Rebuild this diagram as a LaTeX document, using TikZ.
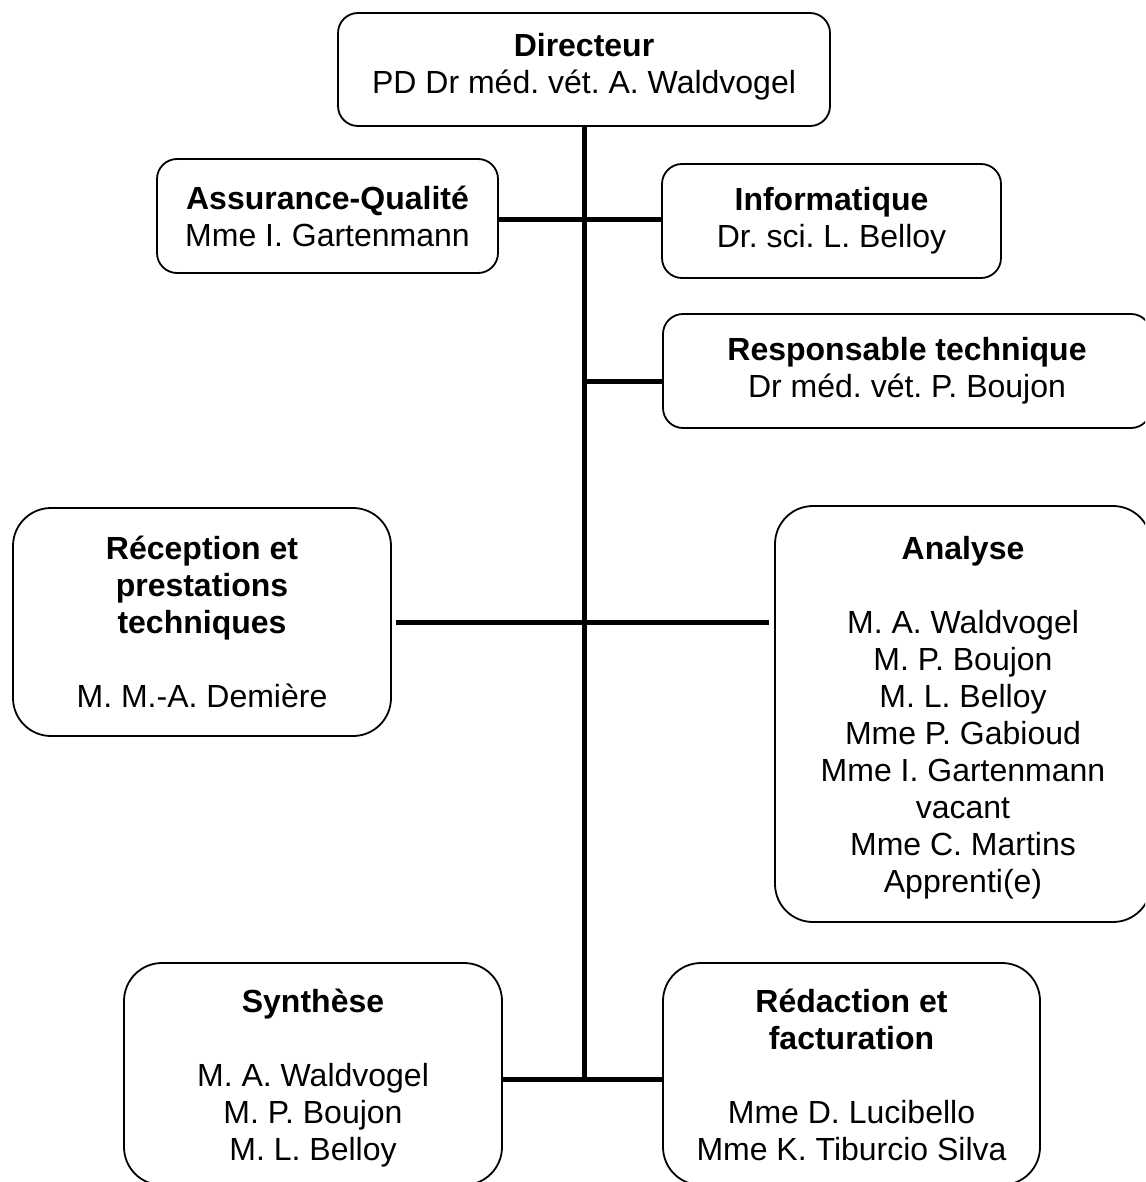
\documentclass[tikz,border=0pt]{standalone}
\usepackage{fontspec}
\setmainfont{Liberation Sans}
\frenchspacing
\begin{document}
\begin{tikzpicture}[x=1pt,y=-1pt,
  box/.style={draw=black, line width=1.8pt, rounded corners=20pt, fill=white, align=center,
    inner sep=0pt, font=\fontsize{32}{37}\selectfont},
  bigbox/.style={box, rounded corners=38pt},
  txt/.style={align=center, inner sep=0pt, font=\fontsize{32}{37}\selectfont},
  link/.style={draw=black, line width=5pt}]
\useasboundingbox (0,0) rectangle (1145,1182);
\clip (0,0) rectangle (1145,1182);
\fill[white] (0,0) rectangle (1145,1182);

% coordinates on the trunk
\coordinate (j1) at (584,220);
\coordinate (j2) at (584,381);
\coordinate (j3) at (584,622);
\coordinate (j4) at (584,1079);

\node[box, minimum width=492pt, minimum height=113pt] (dir) at (584,69.5) {};
\node[txt] (dirt) at (584,66.5)
  {\textbf{Directeur}\\PD Dr méd. vét. A. Waldvogel};

\node[box, minimum width=341pt, minimum height=114pt] (aq) at (327.5,216)
  {\textbf{Assurance-Qualité}\\Mme I. Gartenmann};
\node[box, minimum width=339pt, minimum height=114pt] (info) at (831.5,221)
  {\textbf{Informatique}\\Dr. sci. L. Belloy};

\node[box, minimum width=488pt, minimum height=114pt] (resp) at (907,371)
  {\textbf{Responsable technique}\\Dr méd. vét. P. Boujon};

\node[bigbox, minimum width=378pt, minimum height=228pt] (rec) at (202,622)
  {\textbf{Réception et}\\\textbf{prestations}\\\textbf{techniques}\\[37pt]M. M.-A. Demière};

\node[bigbox, minimum width=376pt, minimum height=416pt] (ana) at (963,714) {};
\node[txt] (anat) at (963,718)
  {\textbf{Analyse}\\[37pt]M. A. Waldvogel\\M. P. Boujon\\M. L. Belloy\\Mme P. Gabioud\\Mme I. Gartenmann\\vacant\\Mme C. Martins\\Apprenti(e)};

\node[bigbox, minimum width=378pt, minimum height=222pt] (syn) at (313,1074) {};
\node[txt] (synt) at (313,1078)
  {\textbf{Synthèse}\\[37pt]M. A. Waldvogel\\M. P. Boujon\\M. L. Belloy};

\node[bigbox, minimum width=377pt, minimum height=222pt] (red) at (851.5,1074) {};
\node[txt] (redt) at (851.5,1075)
  {\textbf{Rédaction et}\\\textbf{facturation}\\[37pt]Mme D. Lucibello\\Mme K. Tiburcio Silva};

% connectors
\draw[link] (dir.south) -- ([yshift=2.5pt]j4);
\draw[link] (aq.east |- j1) -- (j1) -- (info.west |- j1);
\draw[link] (j2) -- (resp.west |- j2);
\draw[link] ([xshift=4pt]rec.east |- j3) -- (j3) -- ([xshift=-5pt]ana.west |- j3);
\draw[link] (syn.east |- j4) -- (j4) -- (red.west |- j4);
\end{tikzpicture}
\end{document}
